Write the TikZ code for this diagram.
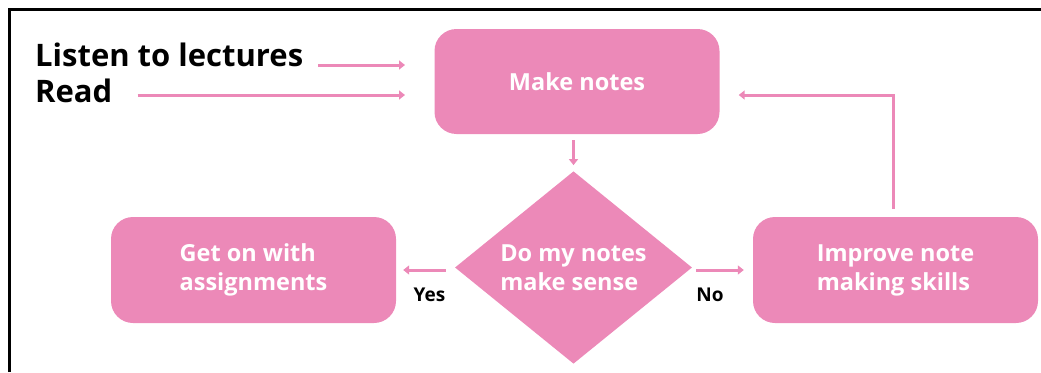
\documentclass[tikz,border=0pt]{standalone}
\usepackage{fontspec}
\setmainfont{Open Sans}
\usetikzlibrary{shapes.geometric,arrows.meta}
\definecolor{pinkfill}{RGB}{236,137,184}
\tikzset{
  box/.style={draw=none,fill=pinkfill,rounded corners=22pt,minimum width=285pt,
    text=white,font=\fontsize{23.5}{29}\selectfont\bfseries,align=left,inner sep=0pt},
  dec/.style={shape=diamond,fill=pinkfill,minimum width=237pt,minimum height=189pt,
    inner sep=0pt,text=white,font=\fontsize{23.5}{29}\selectfont\bfseries,align=left},
  big/.style={font=\fontsize{31}{36}\selectfont\bfseries,inner sep=0pt,text=black},
  lab/.style={font=\fontsize{19}{22}\selectfont\bfseries,inner sep=0pt,text=black},
  arr/.style={draw=pinkfill,line width=3pt,-{Triangle[width=9pt,length=6pt]}}
}
\begin{document}
\begin{tikzpicture}[x=1pt,y=-1pt]
\useasboundingbox (0,0) rectangle (1041,372);
\draw[line width=3pt] (9.5,372) -- (9.5,9.5) -- (1041,9.5);

\node[box,minimum height=105pt] (mk) at (577,81.5) {Make notes};
\node[dec] (dm) at (573.5,267.5) {Do my notes\\make sense};
\node[box,minimum height=106pt] (ga) at (253.5,270) {Get on with\\assignments};
\node[box,minimum height=106pt] (im) at (895.5,270) {Improve note\\making skills};

\node[big,anchor=base west] (li) at (35,66) {Listen to lectures};
\node[big,anchor=base west] (rd) at (35,102) {Read};

\node[lab] (yes) at (429.5,295) {Yes};
\node[lab] (no) at (710,295) {No};

\coordinate (liS) at ([xshift=15pt,yshift=1pt]li.base east);
\coordinate (rdS) at ([xshift=25pt,yshift=7pt]rd.base east);
\draw[arr] (liS) -- (liS -| 405,0);
\draw[arr] (rdS) -- (rdS -| 405,0);

\coordinate (mkb) at (dm.north |- mk.south);
\draw[arr] ([yshift=-6pt]mkb) -- ([yshift=6pt]dm.north);
\draw[arr] ([xshift=-9pt,yshift=-2.5pt]dm.west) -- ([xshift=7pt]ga.east);
\draw[arr] ([xshift=4pt,yshift=-2.5pt]dm.east) -- ([xshift=-9pt]im.west);
\coordinate (fb) at ([xshift=-2.5pt,yshift=8pt]im.north);
\draw[arr] (fb) -- (fb |- 0,95) -- ([xshift=19pt]mk.east |- 0,95);
\end{tikzpicture}
\end{document}
